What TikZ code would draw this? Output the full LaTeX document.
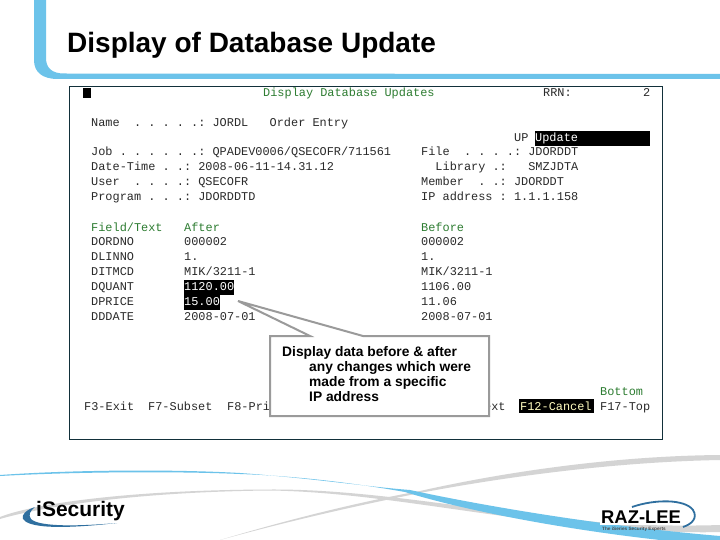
\documentclass[tikz,border=0pt]{standalone}
\usepackage{fontspec}
\setmainfont{Liberation Sans}
\newfontfamily\termfont{Liberation Mono}
\definecolor{skyband}{HTML}{6CC3EA}
\definecolor{termgreen}{HTML}{2E7D32}
\definecolor{termink}{HTML}{2A2A2A}
\definecolor{calloutgray}{HTML}{9A9A9A}
\definecolor{frameink}{HTML}{12303A}
\definecolor{swooshblue}{HTML}{2F6F9F}
\definecolor{wavegray}{HTML}{D4D4D4}
\tikzset{
  x=1pt,y=-1pt,
  term/.style={anchor=base west,yshift=-4pt,inner sep=0pt,font=\termfont\fontsize{11.9}{12}\selectfont,text=termink},
  termg/.style={term,text=termgreen},
  termi/.style={term,text=white},
  hilite/.style={fill=black,draw=none,anchor=west,minimum height=15pt,inner sep=0pt},
  callout/.style={draw=calloutgray,line width=2pt,fill=white},
}
\begin{document}
\begin{tikzpicture}
\useasboundingbox (0,0) rectangle (720,540);
\fill[white] (0,0) rectangle (720,540);
% top band
\fill[skyband] (34,0) -- (46,0) -- (46,58) .. controls (46,68) and (52,73.5) .. (64,73.5) -- (720,74) -- (720,79) -- (58,79) .. controls (42,79) and (34,72) .. (34,60) -- cycle;
% title
\node[anchor=base west,inner sep=0pt,font=\bfseries\fontsize{28}{30}\selectfont] (title) at (67,53) {Display of Database Update};
% terminal frame
\draw[frameink,line width=1pt,fill=white] (69,87) rectangle (662,439);
\fill[black] (83,88) rectangle (91,98);
% highlights
\node[hilite,minimum width=115pt] (updbar) at (535,138.5) {};
\node[hilite,minimum width=50pt] (qbar) at (184,287.5) {};
\node[hilite,minimum width=36pt] (pbar) at (184,302.5) {};
\node[hilite,minimum width=75pt,minimum height=14pt] (cbar) at (519,406) {};
% header
\node[termg] (hd) at (263,93) {Display Database Updates};
\node[term] (rrn) at (543,93) {RRN:};
\node[term] (rrnv) at (643,93) {2};
\node[term] (l1) at (91,123) {Name~~.~.~.~.~.:~JORDL~~~Order~Entry};
\node[term] (up) at (514,138) {UP};
\node[termi] (upd) at (535,138) {Update};
\node[term] (l2) at (91,152) {Job~.~.~.~.~.~.:~QPADEV0006/QSECOFR/711561};
\node[term] (l3) at (91,167) {Date-Time~.~.:~2008-06-11-14.31.12};
\node[term] (l4) at (91,182) {User~~.~.~.~.:~QSECOFR};
\node[term] (l5) at (91,197) {Program~.~.~.:~JDORDDTD};
\node[term] (r2) at (421,152) {File~~.~.~.~.:~JDORDDT};
\node[term] (r3) at (421,167) {~~Library~.:~~~SMZJDTA};
\node[term] (r4) at (421,182) {Member~~.~.:~JDORDDT};
\node[term] (r5) at (421,197) {IP~address~:~1.1.1.158};
% table
\node[termg] (f0) at (91,227) {Field/Text};
\node[termg] (a0) at (184,227) {After};
\node[termg] (b0) at (421,227) {Before};
\node[term] (f1) at (91,241.5) {DORDNO};
\node[term] (a1) at (184,241.5) {000002};
\node[term] (b1) at (421,241.5) {000002};
\node[term] (f2) at (91,256.5) {DLINNO};
\node[term] (a2) at (184,256.5) {1.};
\node[term] (b2) at (421,256.5) {1.};
\node[term] (f3) at (91,271.5) {DITMCD};
\node[term] (a3) at (184,271.5) {MIK/3211-1};
\node[term] (b3) at (421,271.5) {MIK/3211-1};
\node[term] (f4) at (91,286.5) {DQUANT};
\node[termi] (a4) at (184,286.5) {1120.00};
\node[term] (b4) at (421,286.5) {1106.00};
\node[term] (f5) at (91,301.5) {DPRICE};
\node[termi] (a5) at (184,301.5) {15.00};
\node[term] (b5) at (421,301.5) {11.06};
\node[term] (f6) at (91,316.5) {DDDATE};
\node[term] (a6) at (184,316.5) {2008-07-01};
\node[term] (b6) at (421,316.5) {2008-07-01};
% footer
\node[termg] (bot) at (600,391) {Bottom};
\node[term] (k1) at (84,406) {F3-Exit};
\node[term] (k2) at (148,406) {F7-Subset};
\node[term] (k3) at (227,406) {F8-Pri};
\node[term] (k4) at (484,406) {ext};
\node[termi,text=yellow!25!white] (k5) at (520,406) {F12-Cancel};
\node[term] (k6) at (600,406) {F17-Top};
% callout
\coordinate (tip) at (238,301);
\draw[callout,line join=miter] (270,336) -- (310,336) -- (tip) -- (363,336) -- (489,336) -- (489,416) -- (270,416) -- cycle;
\node[anchor=north west,inner sep=0pt,align=left,font=\bfseries\fontsize{13.8}{15}\selectfont] (ctext) at (282,346) {Display data before \& after\\\hspace{27pt}any changes which were\\\hspace{27pt}made from a specific\\\hspace{27pt}IP address};
% bottom waves
\fill[wavegray] (0,517) .. controls (30,505) and (120,490) .. (270,489.5) .. controls (370,489) and (470,510) .. (597,522) .. controls (640,526) and (690,526) .. (720,525) -- (720,532) .. controls (690,533) and (640,531) .. (597,527) .. controls (470,515) and (370,492) .. (270,490.5) .. controls (120,492) and (30,510) .. (0,519) -- cycle;
\fill[wavegray] (220,540) .. controls (300,516) and (370,500) .. (420,491) .. controls (500,473) and (610,456) .. (720,455) -- (720,460) .. controls (610,462) and (500,478) .. (425,492) .. controls (370,503) and (300,518) .. (220,540) -- cycle;
\fill[skyband] (0,475) .. controls (70,470) and (170,469) .. (240,473) .. controls (310,478) and (370,487) .. (410,490) .. controls (470,503) and (590,525) .. (720,536) -- (720,540) -- (660,540) .. controls (570,530) and (470,512) .. (405,492) .. controls (360,484) and (300,476) .. (240,474) .. controls (170,471) and (70,472) .. (0,476) -- cycle;
% iSecurity logo
\fill[swooshblue] (35,507) .. controls (26,510) and (21,515) .. (23,519) .. controls (28,527) and (55,530) .. (117,523) .. controls (70,527) and (38,526) .. (31,519) .. controls (28,515) and (30,511) .. (35,507) -- cycle;
\node[anchor=base west,inner sep=0pt,font=\bfseries\fontsize{21}{22}\selectfont] (isec) at (36,516) {iSecurity};
% Raz-Lee logo
\fill[white] (600,508) rectangle (686,525);
\draw[swooshblue,line width=1.8pt] (632,507) .. controls (655,499) and (685,499) .. (693,510) .. controls (698,518) and (692,524) .. (683,527);
\node[anchor=base west,inner sep=0pt,font=\bfseries\fontsize{18.4}{20}\selectfont] (raz) at (601,523.5) {RAZ-LEE};
\node[anchor=base west,inner sep=0pt,font=\bfseries\fontsize{4.7}{5}\selectfont,text=black!70] (raz2) at (602,530.5) {The iSeries Security Experts};
\end{tikzpicture}
\end{document}
